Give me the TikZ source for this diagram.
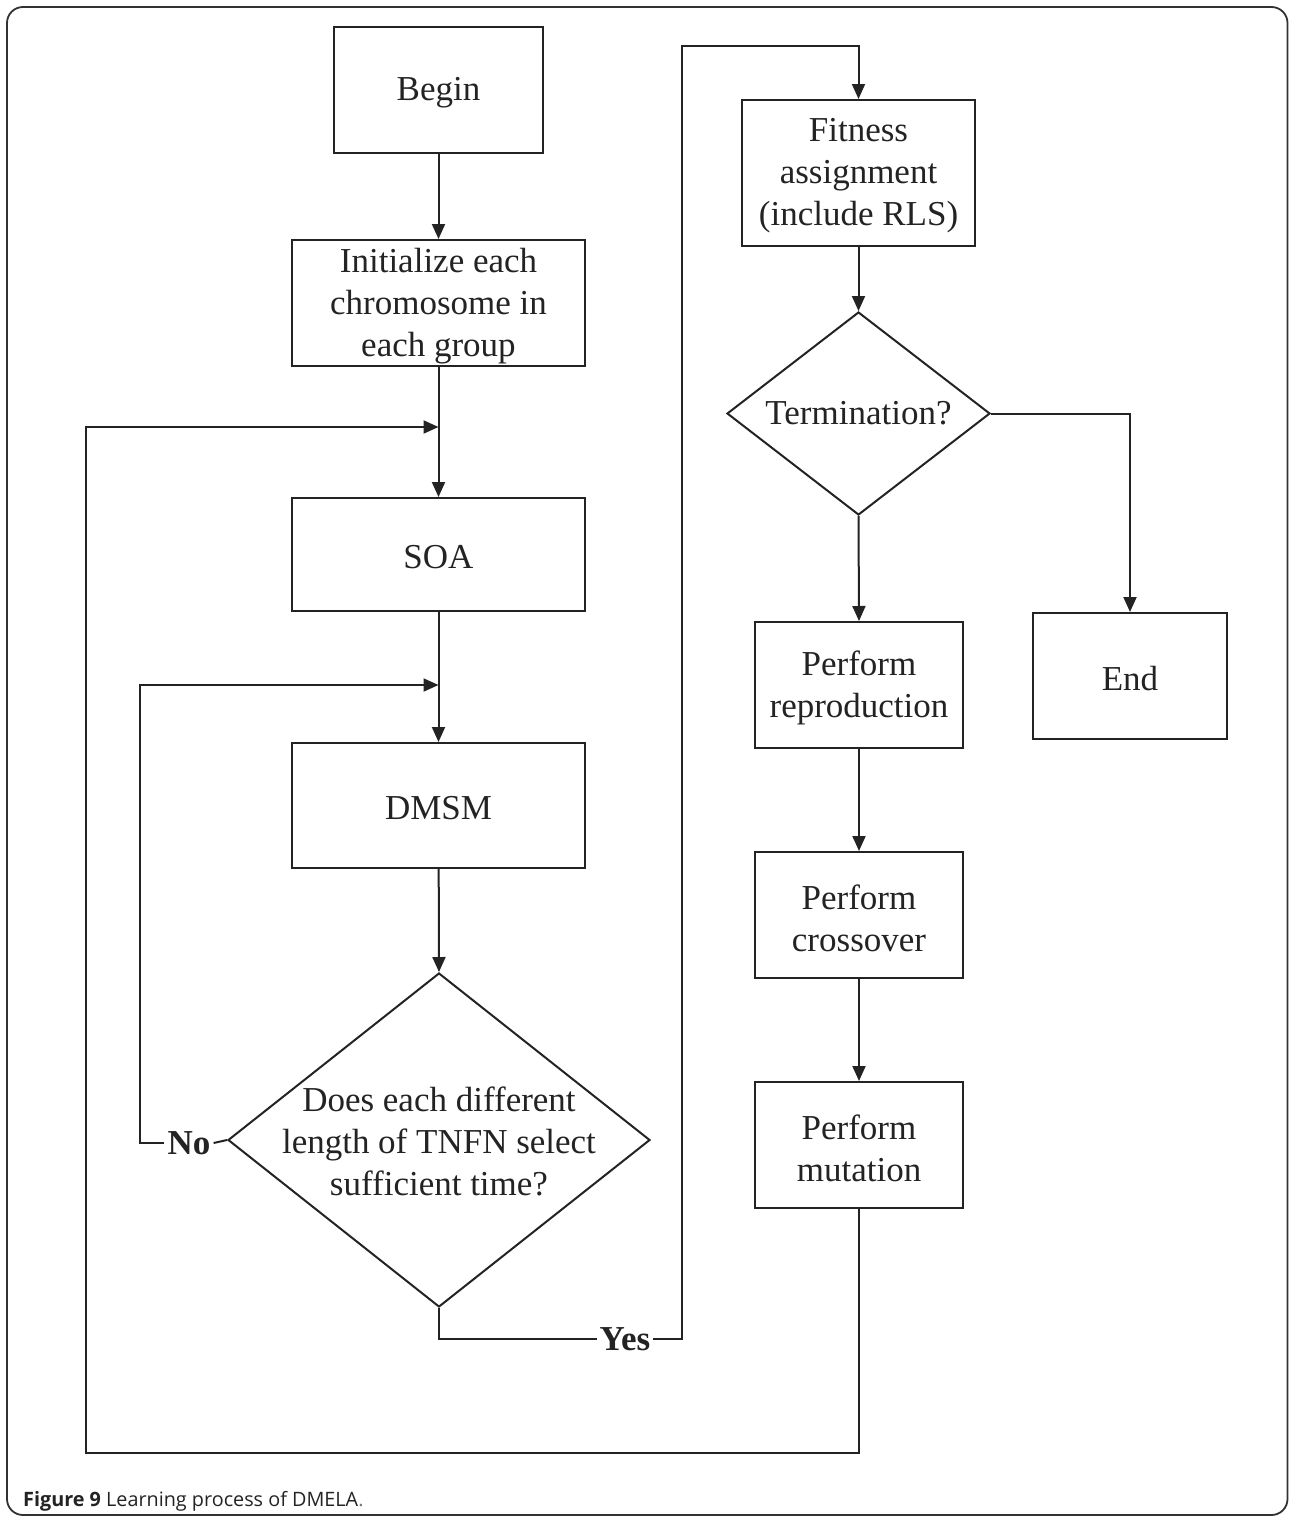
\documentclass[tikz,border=0pt]{standalone}
\usepackage{fontspec}
\setmainfont{Liberation Serif}
\newfontfamily\capfont{Open Sans}
\usetikzlibrary{arrows.meta,shapes.geometric}
\definecolor{ink}{RGB}{35,35,35}
\definecolor{frameink}{RGB}{50,50,50}
\definecolor{dotgray}{RGB}{120,120,120}
\begin{document}
\begin{tikzpicture}[x=1pt,y=-1pt,
  txt/.style={font=\fontsize{35}{42}\selectfont, text=ink, align=center, inner sep=0pt},
  box/.style={draw=ink, line width=2pt, inner sep=0pt},
  dia/.style={draw=ink, line width=2pt, shape=diamond, inner sep=0pt},
  lbl/.style={font=\bfseries\fontsize{35}{42}\selectfont, text=ink, inner sep=3pt},
  conn/.style={draw=ink, line width=2pt},
  arr/.style={conn, -{Triangle[length=15pt,width=13pt]}}]
\useasboundingbox (0,0) rectangle (1289,1518);
% outer frame
\draw[frameink, line width=1.8pt, rounded corners=16pt] (7,7) rectangle (1287.5,1515);

% left column: shapes
\node[box, minimum width=209, minimum height=126] (begin) at (438.5,90) {};
\node[box, minimum width=293, minimum height=126] (init) at (438.5,303) {};
\node[box, minimum width=293, minimum height=113] (soa) at (438.5,554.5) {};
\node[box, minimum width=293, minimum height=125] (dmsm) at (438.5,805.5) {};
\node[dia, minimum width=422, minimum height=334] (q1) at (439,1140) {};
% left column: texts
\node[txt] (begint) at ([yshift=-3pt]begin.center) {Begin};
\node[txt] (initt) at ([yshift=-3pt]init.center) {Initialize each\\chromosome in\\each group};
\node[txt] (soat) at ([yshift=-3pt]soa.center) {SOA};
\node[txt] (dmsmt) at ([yshift=-3pt]dmsm.center) {DMSM};
\node[txt] (q1t) at (439,1141) {Does each different\\length of TNFN select\\sufficient time?};
\node[lbl] (no) at (189,1143) {No};
\node[lbl] (yes) at (625,1339) {Yes};

% right column: shapes
\node[box, minimum width=233, minimum height=146] (fit) at (858.5,173) {};
\node[dia, minimum width=263, minimum height=203] (q2) at (858.5,413.5) {};
\node[box, minimum width=194, minimum height=126] (fin) at (1130,676) {};
\node[box, minimum width=208, minimum height=126] (rep) at (859,685) {};
\node[box, minimum width=208, minimum height=126] (cro) at (859,915) {};
\node[box, minimum width=208, minimum height=126] (mut) at (859,1145) {};
% right column: texts
\node[txt] (fitt) at ([yshift=-3pt]fit.center) {Fitness\\assignment\\(include RLS)};
\node[txt] (q2t) at (858.5,413) {Termination?};
\node[txt] (fint) at ([yshift=-3pt]fin.center) {End};
\node[txt] (rept) at ([yshift=-3pt]rep.center) {Perform\\reproduction};
\node[txt] (crot) at ([yshift=-3pt]cro.center) {Perform\\crossover};
\node[txt] (mutt) at ([yshift=-3pt]mut.center) {Perform\\mutation};

% bend points of the loops
\coordinate (m1) at (438.5,427);
\coordinate (m2) at (438.5,685);
\coordinate (lb) at (86,1453);
\coordinate (lt) at (140,685);
\coordinate (yt) at (682,46);

% main flow
\draw[arr] (begin) -- (init);
\draw[arr] (init) -- (soa);
\draw[arr] (soa) -- (dmsm);
\draw[arr] (dmsm) -- (q1.north);
\draw[conn] (q1.west) -- (no.east);
\draw[arr] (no.west) -| (lt) -- (m2);
\draw[conn] (q1.south) |- (yes.west);
\draw[arr] (yes.east) -| (yt) -| (fit.north);
\draw[arr] (fit) -- (q2.north);
\draw[arr] (q2.east) -| (fin.north);
\draw[arr] (q2.south) -- (rep.north);
\draw[arr] (rep) -- (cro);
\draw[arr] (cro) -- (mut);
\draw[arr] (mut.south) |- (lb) |- (m1);

% caption
\node[anchor=base west, inner sep=0pt, text=ink, font=\capfont\fontsize{19.8}{24}\selectfont] (cap) at (23,1506) {\textbf{Figure 9} Learning process of DMELA\textcolor{dotgray}{.}};
\end{tikzpicture}
\end{document}
